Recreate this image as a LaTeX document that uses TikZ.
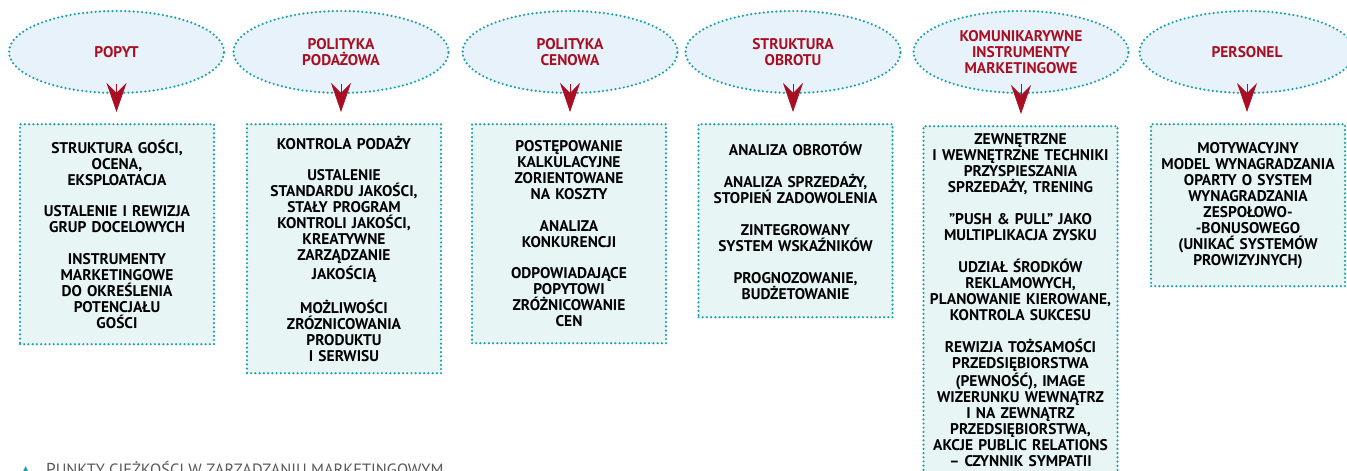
\documentclass[tikz,border=0pt]{standalone}
\usepackage{fontspec}
\setmainfont{PT Sans}
\newfontfamily\symbolfont{DejaVu Sans}
\usepackage{tikz}
\usetikzlibrary{shapes.geometric, arrows.meta}
\usepackage{xcolor}
\definecolor{morski}{HTML}{1AA1AD}
\definecolor{bordo}{HTML}{A80F22}
\definecolor{tloel}{HTML}{E7F2FA}
\definecolor{tlobox}{HTML}{E8F5F5}

\begin{document}
\begin{tikzpicture}[
  kropki/.style={draw=morski, line width=1.4pt, line cap=round, dash pattern=on 0pt off 2.4pt},
  obszar/.style={kropki, ellipse, fill=tloel, minimum width=4.3cm, minimum height=1.64cm, inner sep=0pt,
    align=center, text=bordo, font=\bfseries\fontsize{8.8}{9}\selectfont},
  punkty/.style={kropki, rectangle, fill=tlobox, anchor=north, text width=3.72cm, inner sep=0.08cm,
    align=center, font=\bfseries\fontsize{8.8}{9.1}\selectfont},
  grot/.style={draw=bordo, line width=0.4pt, -{Stealth[length=0.58cm, width=0.4cm, inset=0.2cm, fill=bordo]}}
]
\useasboundingbox (0,0) rectangle (26.94,-9.42);

\node[obszar] (e1) at (2.33,-1.04) {POPYT};
\node[obszar] (e2) at (6.82,-1.04) {POLITYKA\\PODAŻOWA};
\node[obszar] (e3) at (11.4,-1.04) {POLITYKA\\CENOWA};
\node[obszar] (e4) at (15.86,-1.04) {STRUKTURA\\OBROTU};
\node[obszar] (e5) at (20.42,-1.04) {KOMUNIKARYWNE\\INSTRUMENTY\\MARKETINGOWE};
\node[obszar] (e6) at (24.94,-1.04) {PERSONEL};

\node[punkty, minimum height=4.4cm] (b1) at (2.34,-2.46) {STRUKTURA GOŚCI,\\OCENA,\\EKSPLOATACJA\\[9pt]
  USTALENIE I REWIZJA\\GRUP DOCELOWYCH\\[9pt]
  INSTRUMENTY\\MARKETINGOWE\\DO OKREŚLENIA\\POTENCJAŁU\\GOŚCI};
\node[punkty, minimum height=4.98cm] (b2) at (6.88,-2.46) {KONTROLA PODAŻY\\[9pt]
  USTALENIE\\STANDARDU JAKOŚCI,\\STAŁY PROGRAM\\KONTROLI JAKOŚCI,\\KREATYWNE\\ZARZĄDZANIE\\JAKOŚCIĄ\\[9pt]
  MOŻLIWOŚCI\\ZRÓZNICOWANIA\\PRODUKTU\\I SERWISU};
\node[punkty, minimum height=4.38cm] (b3) at (11.38,-2.46) {POSTĘPOWANIE\\KALKULACYJNE\\ZORIENTOWANE\\NA KOSZTY\\[9pt]
  ANALIZA\\KONKURENCJI\\[9pt]
  ODPOWIADAJĄCE\\POPYTOWI\\ZRÓŻNICOWANIE\\CEN};
\node[punkty, minimum height=3.86cm] (b4) at (15.91,-2.46) {ANALIZA OBROTÓW\\[9pt]
  ANALIZA SPRZEDAŻY,\\STOPIEŃ ZADOWOLENIA\\[9pt]
  ZINTEGROWANY\\SYSTEM WSKAŹNIKÓW\\[9pt]
  PROGNOZOWANIE,\\BUDŻETOWANIE};
\node[punkty, minimum height=6.96cm] (b5) at (20.41,-2.5) {ZEWNĘTRZNE\\I WEWNĘTRZNE TECHNIKI\\PRZYSPIESZANIA\\SPRZEDAŻY, TRENING\\[9pt]
  \symbol{34}PUSH \& PULL\symbol{34} JAKO\\MULTIPLIKACJA ZYSKU\\[9pt]
  UDZIAŁ ŚRODKÓW\\REKLAMOWYCH,\\PLANOWANIE KIEROWANE,\\KONTROLA SUKCESU\\[9pt]
  REWIZJA TOŻSAMOŚCI\\PRZEDSIĘBIORSTWA\\(PEWNOŚĆ), IMAGE\\WIZERUNKU WEWNĄTRZ\\I NA ZEWNĄTRZ\\PRZEDSIĘBIORSTWA,\\AKCJE PUBLIC RELATIONS\\– CZYNNIK SYMPATII};
\node[punkty, minimum height=3.24cm] (b6) at (24.96,-2.46) {MOTYWACYJNY\\MODEL WYNAGRADZANIA\\OPARTY O SYSTEM\\WYNAGRADZANIA\\ZESPOŁOWO-\\-BONUSOWEGO\\(UNIKAĆ SYSTEMÓW\\PROWIZYJNYCH)};

\draw[grot] ([yshift=0.2cm]e1.south) -- ([yshift=0.22cm]e1.south |- b1.north);
\draw[grot] ([yshift=0.2cm]e2.south) -- ([yshift=0.22cm]e2.south |- b2.north);
\draw[grot] ([yshift=0.2cm]e3.south) -- ([yshift=0.22cm]e3.south |- b3.north);
\draw[grot] ([yshift=0.2cm]e4.south) -- ([yshift=0.22cm]e4.south |- b4.north);
\draw[grot] ([yshift=0.2cm]e5.south) -- ([yshift=0.22cm]e5.south |- b5.north);
\draw[grot] ([yshift=0.2cm]e6.south) -- ([yshift=0.22cm]e6.south |- b6.north);

\node[anchor=base west, inner sep=0pt, text=black!65] (podpis) at (0.4,-9.5)
  {{\color{morski}\symbolfont\fontsize{8}{9}\selectfont ▲}\hspace{0.3cm}{\fontsize{9.8}{9}\selectfont P}{\fontsize{9.3}{9}\selectfont UNKTY CIĘŻKOŚCI W ZARZĄDZANIU MARKETINGOWYM}};
\end{tikzpicture}
\end{document}
